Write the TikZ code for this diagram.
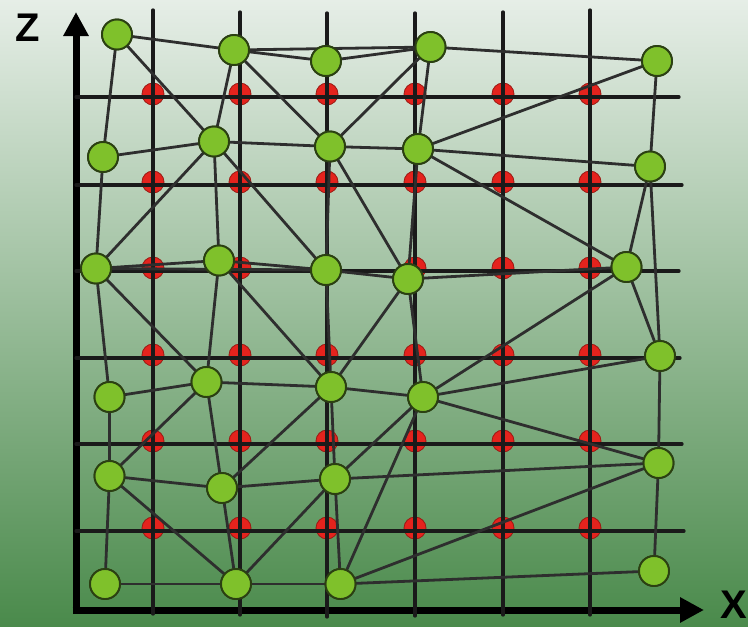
\documentclass[tikz,border=0pt]{standalone}
\usepackage{fontspec}
\setmainfont{Liberation Sans}
\usetikzlibrary{arrows.meta}
\definecolor{bgtop}{HTML}{E6EEE7}
\definecolor{bgmid}{HTML}{A9C7AA}
\definecolor{bgbot}{HTML}{4A8A4B}
\definecolor{gfill}{HTML}{7FC12B}
\definecolor{gline}{HTML}{2B4012}
\definecolor{rfill}{HTML}{E4231D}
\definecolor{rline}{HTML}{9A1A14}
\definecolor{edgec}{HTML}{2E2E2E}
\definecolor{gridc}{HTML}{1A1A1A}
\tikzset{
  gnode/.style={circle,draw=gline,line width=1.9pt,fill=gfill,minimum size=30pt,inner sep=0pt},
  rnode/.style={circle,draw=rline,line width=0.8pt,fill=rfill,minimum size=22pt,inner sep=0pt},
  gridline/.style={draw=gridc,line width=3.3pt,line cap=round},
  edgeline/.style={draw=edgec,line width=2.8pt,line cap=round},
  axisline/.style={draw=black,line width=7pt},
  axlabel/.style={font=\fontsize{40}{40}\selectfont\bfseries,inner sep=0pt}
}
\begin{document}
\begin{tikzpicture}[x=1pt,y=-1pt]
\useasboundingbox (0,0) rectangle (748,627);
\shade[top color=bgtop,middle color=bgmid,bottom color=bgbot,shading angle=0] (0,0) rectangle (748,627);
% red dots
\foreach \i/\x in {1/153,2/240,3/327,4/415,5/503,6/590}{
  \foreach \j/\y in {1/97,2/185,3/271,4/358,5/444,6/531}{
    \node[rnode] (r\i\j) at (\x,\y-3) {};
  }
}
% axes
\coordinate (ztip) at (76,12);
\coordinate (xtip) at (704,610);
\draw[axisline,-{Triangle[length=24pt,width=24pt]}] (76,613.5) -- (ztip);
\draw[axisline,-{Triangle[length=24pt,width=24pt]}] (72.5,610) -- (xtip);
% grid
\foreach \x/\t/\b in {153/10/614,240/12/615,327/13/617,415/13/616,503/12/615,590/10/615}{
  \draw[gridline] (\x,\t) -- (\x,\b);
}
\foreach \y/\r in {97/679,185/682,271/679,358/680,444/682,531/684}{
  \draw[gridline] (76,\y) -- (\r,\y);
}
% green nodes
\node[gnode] (g1) at (117,34.5) {};
\node[gnode] (g2) at (234,50) {};
\node[gnode] (g3) at (326,61) {};
\node[gnode] (g4) at (430.5,47) {};
\node[gnode] (g5) at (657,61) {};
\node[gnode] (g6) at (103,157) {};
\node[gnode] (g7) at (214,141.5) {};
\node[gnode] (g8) at (330,146.5) {};
\node[gnode] (g9) at (418,149) {};
\node[gnode] (g10) at (650,166.5) {};
\node[gnode] (g11) at (96,268.5) {};
\node[gnode] (g12) at (219,260.5) {};
\node[gnode] (g13) at (326,270) {};
\node[gnode] (g14) at (408,279) {};
\node[gnode] (g15) at (626.5,267) {};
\node[gnode] (g16) at (660,356) {};
\node[gnode] (g17) at (109.5,397) {};
\node[gnode] (g18) at (206.5,382) {};
\node[gnode] (g19) at (331,387) {};
\node[gnode] (g20) at (423,397) {};
\node[gnode] (g21) at (109.5,476) {};
\node[gnode] (g22) at (222,488) {};
\node[gnode] (g23) at (335,479) {};
\node[gnode] (g24) at (658.5,463) {};
\node[gnode] (g25) at (105,584) {};
\node[gnode] (g26) at (236,584) {};
\node[gnode] (g27) at (340.5,584) {};
\node[gnode] (g28) at (654,571) {};
% edges
\foreach \a/\b in {g1/g2,g1/g6,g1/g7,g2/g3,g2/g4,g2/g7,g2/g8,g3/g4,
  g4/g5,g4/g8,g4/g9,g5/g9,g5/g10,g6/g7,g6/g11,
  g7/g8,g7/g11,g7/g12,g7/g13,g8/g9,g8/g13,g8/g14,
  g9/g10,g9/g14,g9/g15,g10/g15,g10/g16,
  g11/g12,g11/g13,g11/g17,g11/g18,g12/g13,g12/g18,g12/g19,
  g13/g14,g13/g19,g14/g15,g14/g19,g14/g20,g15/g16,g15/g20,
  g16/g20,g16/g24,g17/g18,g17/g21,g18/g19,g18/g21,g18/g22,
  g19/g20,g19/g22,g19/g23,g20/g23,g20/g24,g20/g27,
  g21/g22,g21/g25,g21/g26,g22/g23,g22/g26,
  g23/g24,g23/g26,g23/g27,g24/g27,g24/g28,
  g25/g26,g26/g27,g27/g28}{
  \draw[edgeline] (\a) -- (\b);
}
% green nodes drawn again above the edges
\foreach \n in {1,...,28}{
  \path (g\n) node[gnode] {};
}
% labels
\node[axlabel] (zlab) at (27.5,28) {Z};
\node[axlabel,anchor=east] (xlab) at (747,605) {X};
\end{tikzpicture}
\end{document}
